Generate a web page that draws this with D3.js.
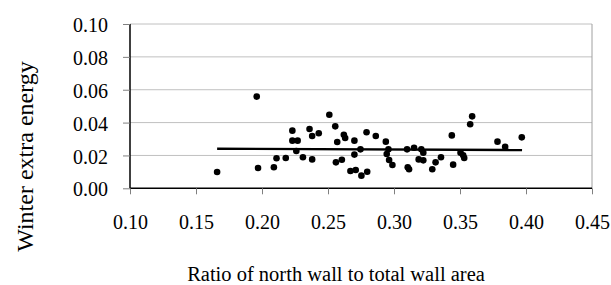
<!DOCTYPE html>
<html>
<head>
<meta charset="utf-8">
<script src="https://cdn.jsdelivr.net/npm/d3@7"></script>
<style>
  body { margin: 0; background: #fff; }
  svg text { font-family: "Liberation Serif", "Times New Roman", serif; font-weight: normal; fill: #000; }
</style>
</head>
<body>
<div id="chart"></div>
<script>
// ratio of north wall to total wall area
var ratio = [0.166, 0.196, 0.197, 0.209, 0.211, 0.218, 0.223, 0.223, 0.227, 0.226,
             0.231, 0.236, 0.238, 0.238, 0.243, 0.251, 0.2555, 0.257, 0.256, 0.2605,
             0.262, 0.263, 0.270, 0.2746, 0.270, 0.267, 0.271, 0.2753, 0.2797, 0.2792,
             0.2862, 0.2938, 0.2958, 0.2945, 0.2963, 0.2988, 0.3099, 0.3104, 0.3114, 0.3152,
             0.3207, 0.3222, 0.3187, 0.3222, 0.329, 0.3315, 0.3356, 0.3438, 0.3448, 0.3504,
             0.3524, 0.3532, 0.3577, 0.3592, 0.3784, 0.3842, 0.3968];
// winter extra energy
var energy = [0.0099, 0.0558, 0.0124, 0.0128, 0.0183, 0.0184, 0.0351, 0.0290, 0.0290, 0.0227,
              0.0189, 0.0361, 0.0318, 0.0176, 0.0335, 0.0448, 0.0377, 0.0282, 0.0158, 0.0174,
              0.0326, 0.0306, 0.0290, 0.0237, 0.0205, 0.0105, 0.0111, 0.0077, 0.0101, 0.0341,
              0.0318, 0.0284, 0.0237, 0.0209, 0.0172, 0.0142, 0.0237, 0.0128, 0.0116, 0.0247,
              0.0237, 0.0217, 0.0176, 0.0170, 0.0116, 0.0158, 0.0189, 0.0322, 0.0144, 0.0217,
              0.0201, 0.0184, 0.0390, 0.0438, 0.0284, 0.0253, 0.0310];
// linear trend line end points
var trendX = [0.166, 0.397];
var trendY = [0.0241, 0.0233];

var xTicks = [0.10, 0.15, 0.20, 0.25, 0.30, 0.35, 0.40, 0.45];
var yTicks = [0.00, 0.02, 0.04, 0.06, 0.08, 0.10];

var W = 611, H = 285;
var plotLeft = 130, plotRight = 592, plotTop = 24, plotBottom = 188.3;

var svg = d3.select("#chart").append("svg")
    .attr("width", W)
    .attr("height", H);

var x = d3.scaleLinear().domain([0.10, 0.45]).range([plotLeft, plotRight]);
var y = d3.scaleLinear().domain([0.00, 0.10]).range([plotBottom, plotTop]);

// gridlines
svg.append("g")
    .selectAll("line")
    .data(yTicks.slice(1))
    .enter().append("line")
    .attr("x1", plotLeft).attr("x2", plotRight)
    .attr("y1", function(d) { return y(d); })
    .attr("y2", function(d) { return y(d); })
    .attr("stroke", "#c0c0c0")
    .attr("stroke-width", 1);

// right border
svg.append("line")
    .attr("x1", plotRight).attr("x2", plotRight)
    .attr("y1", plotTop).attr("y2", plotBottom)
    .attr("stroke", "#a0a0a0");

// axes
var xAxis = d3.axisBottom(x).tickValues(xTicks).tickSize(6).tickFormat(d3.format(".2f"));
var yAxis = d3.axisLeft(y).tickValues(yTicks).tickSize(7).tickFormat(d3.format(".2f"));

var gx = svg.append("g").attr("transform", "translate(0," + plotBottom + ")").call(xAxis)
    .attr("font-family", null).attr("font-size", null);
gx.select(".domain").attr("d", "M" + plotLeft + ",0H" + plotRight).attr("stroke", "#000").attr("stroke-width", 1.5);
gx.selectAll(".tick line").attr("stroke", "#808080");
gx.selectAll(".tick text")
    .style("font-size", "20px")
    .attr("y", 41)
    .attr("dy", 0);

var gy = svg.append("g").attr("transform", "translate(" + plotLeft + ",0)").call(yAxis)
    .attr("font-family", null).attr("font-size", null);
gy.select(".domain").attr("d", "M0," + plotTop + "V" + plotBottom).attr("stroke", "#000").attr("stroke-width", 1.5);
gy.selectAll(".tick line").attr("stroke", "#808080");
gy.selectAll(".tick text")
    .style("font-size", "20px")
    .attr("x", -22)
    .attr("dy", "0.38em");

// trend line
svg.append("line")
    .attr("x1", x(trendX[0])).attr("y1", y(trendY[0]))
    .attr("x2", x(trendX[1])).attr("y2", y(trendY[1]))
    .attr("stroke", "#000")
    .attr("stroke-width", 2.4);

// points
svg.append("g")
    .selectAll("circle")
    .data(ratio)
    .enter().append("circle")
    .attr("cx", function(d) { return x(d); })
    .attr("cy", function(d, i) { return y(energy[i]); })
    .attr("r", 3.3)
    .attr("fill", "#000");

// axis titles
svg.append("text")
    .attr("x", 336)
    .attr("y", 280.5)
    .attr("text-anchor", "middle")
    .style("font-size", "20.5px")
    .text("Ratio of north wall to total wall area");

svg.append("text")
    .attr("transform", "translate(33,156.5) rotate(-90)")
    .attr("text-anchor", "middle")
    .style("font-size", "24px")
    .text("Winter extra energy");
</script>
</body>
</html>
